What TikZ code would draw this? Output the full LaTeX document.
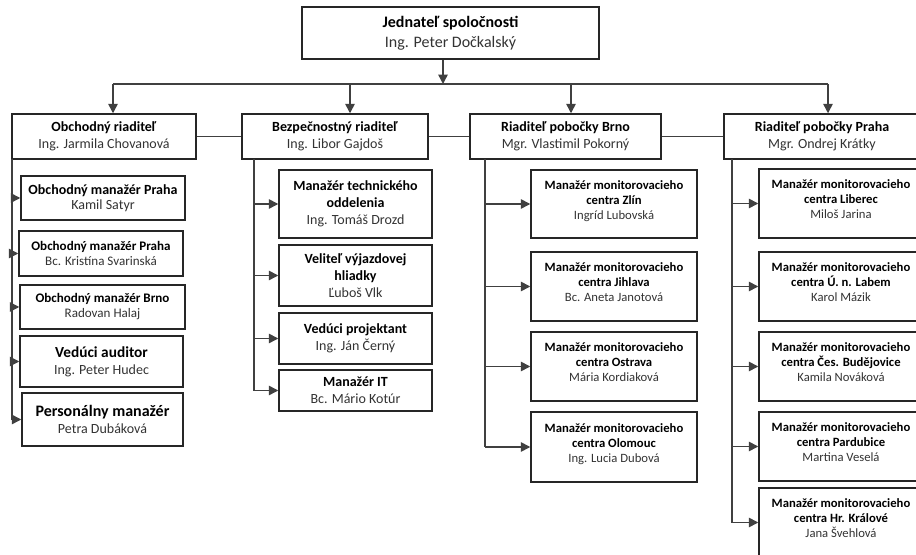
\documentclass[tikz,border=0pt]{standalone}
\usepackage{fontspec}
\setmainfont{Carlito}
\usetikzlibrary{arrows.meta}
\definecolor{nm}{HTML}{333333}
\definecolor{ln}{HTML}{404040}
\definecolor{bd}{HTML}{262626}
\tikzset{
  bx/.style 2 args={draw=bd, line width=1.1pt, fill=white, align=center, inner sep=1pt,
    minimum width=#1*0.75pt, minimum height=#2*0.75pt},
  fT/.style={font=\fontsize{12}{15}\selectfont},
  fR/.style={font=\fontsize{10.5}{12.75}\selectfont},
  fS/.style={font=\fontsize{9.8}{11.25}\selectfont},
  fSb/.style={font=\fontsize{10.5}{11.5}\selectfont},
  fA/.style={font=\fontsize{11.5}{12.75}\selectfont},
  fP/.style={font=\fontsize{12}{12.75}\selectfont},
  fM/.style={font=\fontsize{10.5}{12.75}\selectfont},
  fC/.style={font=\fontsize{9.5}{11.25}\selectfont, text depth=6.5pt},
  conn/.style={draw=ln, line width=1.1pt},
  arr/.style={conn, -{Triangle[length=7pt,width=7pt]}},
}
\newcommand{\ent}[2]{\textbf{#1}\\{\color{nm}#2}}
\newcommand{\entS}[2]{\textbf{#1}\\{\color{nm}\fontsize{10.5}{12}\selectfont #2}}
\begin{document}
\begin{tikzpicture}[x=0.75pt,y=-0.75pt]
\useasboundingbox (0,0) rectangle (916,555);
\clip (0,0) rectangle (916,555);
\fill[white] (0,0) rectangle (916,555);
% top
\node[bx={297}{52}, fT] (top) at (450.5,33) {\ent{Jednateľ spoločnosti}{Ing. Peter Dočkalský}};
% row 2
\node[bx={184}{45}, fR] (o1) at (104,136.5) {\ent{Obchodný riaditeľ}{Ing. Jarmila Chovanová}};
\node[bx={186}{45}, fR] (o2) at (335,136.5) {\ent{Bezpečnostný riaditeľ}{Ing. Libor Gajdoš}};
\node[bx={191}{45}, fR] (o3) at (565.5,136.5) {\ent{Riaditeľ pobočky Brno}{Mgr. Vlastimil Pokorný}};
\node[bx={196}{45}, fR] (o4) at (822,136.5) {\ent{Riaditeľ pobočky Praha}{Mgr. Ondrej Krátky}};
% column 1
\node[bx={164}{44}, fSb] (b1) at (103,198) {\ent{Obchodný manažér Praha}{Kamil Satyr}};
\node[bx={164}{45}, fS] (b2) at (101,253.5) {\ent{Obchodný manažér Praha}{Bc. Kristína Svarinská}};
\node[bx={165}{44}, fS] (b3) at (102.5,307) {\ent{Obchodný manažér Brno}{Radovan Halaj}};
\node[bx={163}{51}, fA] (b4) at (101.5,361.5) {\entS{Vedúci auditor}{Ing. Peter Hudec}};
\node[bx={161}{53}, fP] (b5) at (102.5,419.5) {\entS{Personálny manažér}{Petra Dubáková}};
% column 2
\node[bx={153}{68}, fM] (c1) at (355.5,204) {\textbf{Manažér technického}\\\textbf{oddelenia}\\{\color{nm}Ing. Tomáš Drozd}};
\node[bx={153}{61}, fM] (c2) at (355.5,275.5) {\textbf{Veliteľ výjazdovej}\\\textbf{hliadky}\\{\color{nm}Ľuboš Vlk}};
\node[bx={153}{51}, fM] (c3) at (355.5,338.5) {\ent{Vedúci projektant}{Ing. Ján Černý}};
\node[bx={153}{41}, fM] (c4) at (355.5,390.5) {\ent{Manažér IT}{Bc. Mário Kotúr}};
% column 3
\node[bx={166}{68}, fC] (d1) at (614,204) {\textbf{Manažér monitorovacieho}\\\textbf{centra Zlín}\\{\color{nm}Ingríd Lubovská}};
\node[bx={166}{69}, fC] (d2) at (614,286.5) {\textbf{Manažér monitorovacieho}\\\textbf{centra Jihlava}\\{\color{nm}Bc. Aneta Janotová}};
\node[bx={166}{69}, fC] (d3) at (614,366.5) {\textbf{Manažér monitorovacieho}\\\textbf{centra Ostrava}\\{\color{nm}Mária Kordiaková}};
\node[bx={166}{70}, fC] (d4) at (614,447) {\textbf{Manažér monitorovacieho}\\\textbf{centra Olomouc}\\{\color{nm}Ing. Lucia Dubová}};
% column 4
\node[bx={164}{69}, fC] (e1) at (841,203.5) {\textbf{Manažér monitorovacieho}\\\textbf{centra Liberec}\\{\color{nm}Miloš Jarina}};
\node[bx={164}{69}, fC] (e2) at (841,286.5) {\textbf{Manažér monitorovacieho}\\\textbf{centra Ú. n. Labem}\\{\color{nm}Karol Mázik}};
\node[bx={164}{69}, fC] (e3) at (841,366.5) {\textbf{Manažér monitorovacieho}\\\textbf{centra Čes. Budějovice}\\{\color{nm}Kamila Nováková}};
\node[bx={164}{69}, fC] (e4) at (841,446.5) {\textbf{Manažér monitorovacieho}\\\textbf{centra Pardubice}\\{\color{nm}Martina Veselá}};
\node[bx={164}{69}, fC] (e5) at (841,522.5) {\textbf{Manažér monitorovacieho}\\\textbf{centra Hr. Králové}\\{\color{nm}Jana Švehlová}};
% bus coordinates
\coordinate (k0) at (443,84);
\coordinate (k1) at (113,84);
\coordinate (k2) at (350,84);
\coordinate (k3) at (571,84);
\coordinate (k4) at (828,84);
\coordinate (t1) at (12,159);
\coordinate (t2) at (254,159);
\coordinate (t3) at (485,159);
\coordinate (t4) at (732,159);
% top connectors
\draw[arr] (top.south -| k0) -- (k0);
\draw[conn] (k1) -- (k4);
\foreach \k/\o in {k1/o1,k2/o2,k3/o3,k4/o4}
  \draw[arr] (\k) -- (\k |- \o.north);
\draw[conn] (o1.east) -- (o2.west);
\draw[conn] (o2.east) -- (o3.west);
\draw[conn] (o3.east) -- (o4.west);
% trunks
\draw[conn] (t1) -- (t1 |- b5.west);
\draw[conn] (t2) -- (t2 |- c4.west);
\draw[conn] (t3) -- (t3 |- d4.west);
\draw[conn] (t4) -- (t4 |- e5.west);
\foreach \n in {b1,b2,b3,b4,b5} \draw[arr] (t1 |- \n.west) -- (\n.west);
\foreach \n in {c1,c2,c3,c4} \draw[arr] (t2 |- \n.west) -- (\n.west);
\foreach \n in {d1,d2,d3,d4} \draw[arr] (t3 |- \n.west) -- (\n.west);
\foreach \n in {e1,e2,e3,e4,e5} \draw[arr] (t4 |- \n.west) -- (\n.west);
\end{tikzpicture}
\end{document}
